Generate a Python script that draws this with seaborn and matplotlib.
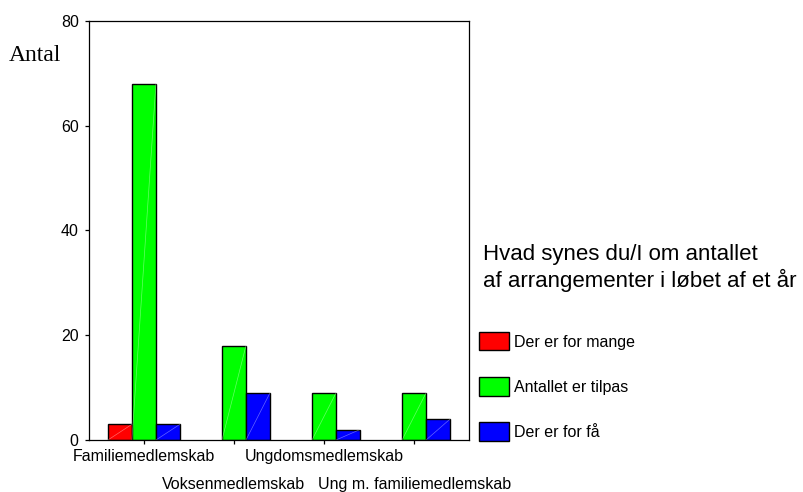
import matplotlib
matplotlib.use("Agg")
import matplotlib.pyplot as plt
import matplotlib.patches as mpatches
import seaborn as sns
import numpy as np
import pandas as pd

# data
categories = ['Familiemedlemskab', 'Voksenmedlemskab', 'Ungdomsmedlemskab', 'Ung m. familiemedlemskab']
answers = ['Der er for mange', 'Antallet er tilpas', 'Der er for få']
for_mange = [3, np.nan, np.nan, np.nan]
tilpas = [68, 18, 9, 9]
for_faa = [3, 9, 2, 4]
colors = ['#ff0000', '#00ff00', '#0000ff']

rows = []
for ans, vals in zip(answers, [for_mange, tilpas, for_faa]):
    for cat, v in zip(categories, vals):
        rows.append({'Medlemskab': cat, 'Svar': ans, 'Antal': v})
df = pd.DataFrame(rows).dropna()

sns.set_style('white')
plt.rcParams['font.family'] = ['Liberation Sans', 'DejaVu Sans']
plt.rcParams['text.color'] = 'black'

fig = plt.figure(figsize=(8.04, 4.92), dpi=100)
ax = fig.add_axes([89 / 804, 1 - 440 / 492, 380 / 804, 419 / 492])

sns.barplot(data=df, x='Medlemskab', y='Antal', hue='Svar', order=categories,
            hue_order=answers, palette=colors, saturation=1, width=0.8,
            edgecolor='black', linewidth=1.0, legend=False, ax=ax)

# faint white diagonal on each bar, as in the original
for cont in ax.containers:
    for bar in cont:
        x0, y0 = bar.get_x(), bar.get_y()
        w, h = bar.get_width(), bar.get_height()
        if h > 0:
            ax.plot([x0, x0 + w], [y0, y0 + h], color='white', lw=0.5, alpha=0.4, zorder=bar.get_zorder() + 0.1)

ax.set_xlim(-0.61, 3.61)
ax.set_ylim(0, 80)
ax.set_yticks([0, 20, 40, 60, 80])
ax.set_xlabel('')
ax.set_ylabel('')
ax.set_xticks(range(len(categories)))
ax.set_xticklabels(categories)

ax.tick_params(axis='both', which='major', labelsize=11.5, length=3.2, width=0.9,
               color='black', labelcolor='black', direction='out', bottom=True, left=True)
ax.tick_params(axis='y', pad=4.2)
ax.tick_params(axis='x', pad=3)
# every second category label goes one row lower
for i, tick in enumerate(ax.xaxis.get_major_ticks()):
    if i % 2 == 1:
        tick.set_pad(23.5)

for sp in ax.spines.values():
    sp.set_visible(True)
    sp.set_color('black')
    sp.set_linewidth(0.9)

fig.text(9 / 804, 1 - 61 / 492, 'Antal', family=['Liberation Serif', 'DejaVu Serif'],
         fontsize=17, ha='left', va='baseline')

fig.text(483 / 804, 1 - 268 / 492, 'Hvad synes du/I om antallet\naf arrangementer i løbet af et år',
         fontsize=16, ha='left', va='center', color='black')

handles = [mpatches.Patch(facecolor=c, edgecolor='black', linewidth=1.0) for c in colors]
fig.legend(handles, answers, loc='upper left', bbox_to_anchor=(479 / 804, 1 - 332 / 492),
           frameon=False, fontsize=11.5, handlelength=1.9, handleheight=1.4,
           handletextpad=0.3, labelspacing=1.67, borderpad=0, borderaxespad=0,
           labelcolor='black')

fig.savefig('out.png', dpi=100)
